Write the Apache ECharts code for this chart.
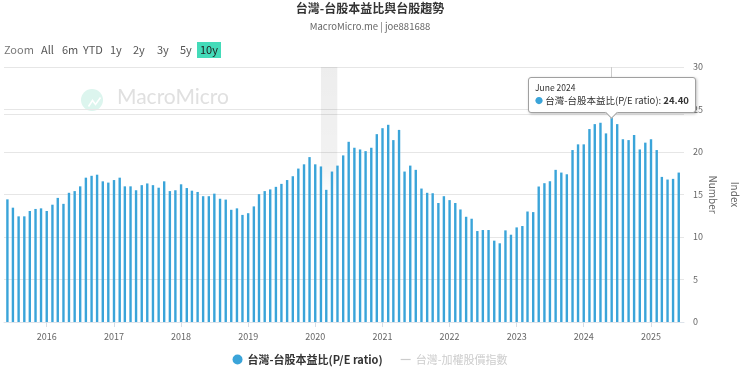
<!DOCTYPE html>
<html><head><meta charset="utf-8">
<script src="https://cdn.jsdelivr.net/npm/echarts@6/dist/echarts.min.js"></script>
<style>html,body{margin:0;padding:0;background:#fff}#c{width:740px;height:372px}</style>
</head><body><div id="c"></div>
<script>
const titleText = '台灣-台股本益比與台股趨勢';
const subText = 'MacroMicro.me | joe881688';
const seriesName = '台灣-台股本益比(P/E ratio)';
const hiddenName = '台灣-加權股價指數';
// monthly P/E values (first array starts in June 2015)
const pe2015 = [14.43, 13.45, 12.43, 12.43, 13.06, 13.3, 13.37];
const pe2016 = [13.06, 13.8, 14.6, 13.9, 15.2, 15.4, 15.96, 16.98, 17.2, 17.33, 16.55, 16.4];
const pe2017 = [16.7, 16.98, 15.96, 15.96, 15.5, 16.1, 16.3, 16.1, 15.8, 16.55, 15.4, 15.5];
const pe2018 = [16.2, 15.76, 15.45, 15.3, 14.8, 14.8, 15.1, 14.5, 14.4, 13.2, 13.37, 12.6];
const pe2019 = [12.8, 13.6, 15.04, 15.4, 15.6, 15.9, 16.25, 16.7, 17.15, 18.05, 18.55, 19.4];
const pe2020 = [18.55, 18.3, 15.55, 17.7, 18.4, 19.6, 21.2, 20.5, 20.3, 20.1, 20.5, 22.1];
const pe2021 = [22.8, 23.2, 21.4, 22.6, 17.7, 18.4, 17.9, 15.7, 15.2, 15.15, 14.0, 14.8];
const pe2022 = [14.34, 14.0, 13.24, 12.38, 12.15, 10.7, 10.82, 10.82, 9.57, 9.26, 10.78, 10.27];
const pe2023 = [11.13, 11.29, 13.0, 12.93, 15.94, 16.33, 16.56, 17.9, 17.58, 17.38, 20.23, 20.9];
const pe2024 = [20.9, 22.7, 23.28, 23.44, 22.19, 24.40, 23.28, 21.5, 21.4, 22.0, 20.3, 21.1];
const pe2025 = [21.5, 20.23, 17.07, 16.76, 16.84, 17.58];
const yearBlocks = [[2015, 6, pe2015], [2016, 1, pe2016], [2017, 1, pe2017], [2018, 1, pe2018], [2019, 1, pe2019],
  [2020, 1, pe2020], [2021, 1, pe2021], [2022, 1, pe2022], [2023, 1, pe2023], [2024, 1, pe2024], [2025, 1, pe2025]];
const yTickValues = [0, 5, 10, 15, 20, 25, 30];
const recession = ['2020-02-01', '2020-04-30'];
const highlightDate = '2024-06-01';
const xRange = ['2015-05-20', '2025-06-23'];
const rangeButtons = ['All', '6m', 'YTD', '1y', '2y', '3y', '5y', '10y'];
const monthNames = ['January','February','March','April','May','June','July','August','September','October','November','December'];

const pad = n => (n < 10 ? '0' : '') + n;
const peData = [];
yearBlocks.forEach(([y, m0, arr]) => arr.forEach((v, i) => peData.push([y + '-' + pad(m0 + i) + '-01', v])));
const hiIndex = peData.findIndex(d => d[0] === highlightDate);

const BLUE = '#3aa4d9';
const FONT = '"Noto Sans CJK TC", "Noto Sans", sans-serif';
const chart = echarts.init(document.getElementById('c'), null, {renderer: 'canvas'});

const btnX = [41, 62, 83, 110, 133, 157, 180, 200];
const graphics = [
  {type: 'text', left: 4, top: 44, z: 10, style: {text: 'Zoom', fontSize: 11, fill: '#777', fontFamily: FONT}},
  {type: 'rect', left: 197, top: 42, z: 9, shape: {width: 24, height: 16}, style: {fill: '#44dbb9'}},
  // watermark
  {type: 'circle', left: 81, top: 89, z: 0, shape: {r: 11}, style: {fill: '#dcf5ee'}},
  {type: 'polyline', left: 86, top: 95, z: 1, shape: {points: [[0, 9], [4, 3], [7, 7], [12, 0]]}, style: {stroke: '#ffffff', lineWidth: 1.6, fill: null}},
  {type: 'text', left: 117, top: 87, z: 0, style: {text: 'MacroMicro', fontSize: 21, fill: '#e0e0e0', fontFamily: 'Lato, sans-serif'}}
];
rangeButtons.forEach((t, i) => graphics.push({type: 'text', left: btnX[i], top: 44, z: 10,
  style: {text: t, fontSize: 11, fill: t === '10y' ? '#222' : '#555', fontFamily: FONT}}));

const option = {
  animation: false,
  backgroundColor: '#fff',
  title: {
    text: titleText, subtext: subText, left: 'center', top: -3, itemGap: 8,
    textStyle: {fontSize: 12, fontWeight: 'bold', color: '#333', fontFamily: FONT},
    subtextStyle: {fontSize: 9.5, color: '#666', fontFamily: FONT}
  },
  graphic: graphics,
  legend: {
    bottom: 2, left: 'center', itemGap: 18, itemWidth: 10, itemHeight: 10,
    inactiveColor: '#cccccc',
    data: [
      {name: seriesName, icon: 'circle', textStyle: {fontWeight: 'bold', color: '#333'}},
      {name: hiddenName, icon: 'path://M0,0 M0,10 M0,4.4 L10,4.4 L10,5.6 L0,5.6 Z', textStyle: {color: '#cccccc'}}
    ],
    selected: {[hiddenName]: false},
    textStyle: {fontSize: 11, fontFamily: FONT}
  },
  grid: {left: 4, right: 56, top: 67, bottom: 50, outerBoundsMode: 'none', containLabel: false},
  tooltip: {
    trigger: 'item', alwaysShowContent: true, transitionDuration: 0, showDelay: 0, hideDelay: 0,
    backgroundColor: '#ffffff', borderColor: '#a0a0a0', borderWidth: 1, padding: [3, 6, 4, 6],
    extraCssText: 'box-shadow:1px 1px 3px rgba(0,0,0,0.25);border-radius:3px;overflow:visible;',
    position: function (point, params, dom, rect, size) {
      const w = size.contentSize[0], h = size.contentSize[1];
      if (rect) return [rect.x + rect.width / 2 - w / 2, rect.y - h - 2];
      return [point[0] - w / 2, point[1] - h - 2];
    },
    formatter: function (p) {
      const d = new Date(p.value[0]);
      return '<div style="font-size:8.5px;color:#333;line-height:12px;font-family:' + FONT.replace(/"/g, "'") + '">' +
        monthNames[d.getUTCMonth()] + ' ' + d.getUTCFullYear() + '</div>' +
        '<div style="font-size:9.5px;color:#333;line-height:15px;font-family:' + FONT.replace(/"/g, "'") + '">' +
        '<span style="color:' + BLUE + ';font-size:8px">●</span> ' + p.seriesName + ': <b>' + p.value[1].toFixed(2) + '</b></div>' +
        '<div style="position:absolute;left:50%;bottom:-5px;width:8px;height:8px;margin-left:-5px;background:#fff;' +
        'border-right:1px solid #a0a0a0;border-bottom:1px solid #a0a0a0;transform:rotate(45deg)"></div>';
    }
  },
  xAxis: {
    type: 'time', min: xRange[0], max: xRange[1],
    minInterval: 365 * 24 * 3600 * 1000, maxInterval: 366 * 24 * 3600 * 1000,
    axisLine: {show: true, lineStyle: {color: '#dde3ea'}},
    axisTick: {show: true, length: 5, lineStyle: {color: '#d8dde5'}},
    splitLine: {show: false},
    axisLabel: {
      color: '#666', fontSize: 9, margin: 10, fontFamily: FONT,
      formatter: function (v) { const d = new Date(v); return (d.getMonth() === 0 && d.getDate() === 1) ? String(d.getFullYear()) : ''; }
    },
    axisPointer: {show: true, status: 'show', value: +new Date(highlightDate + 'T00:00:00'), type: 'line', snap: false, z: 1,
      triggerTooltip: false, label: {show: false}, lineStyle: {color: '#cccccc', width: 1, type: 'solid'}}
  },
  yAxis: [{
    type: 'value', position: 'right', min: yTickValues[0], max: yTickValues[yTickValues.length - 1], interval: yTickValues[1] - yTickValues[0],
    name: 'Number', nameLocation: 'middle', nameRotate: -90, nameGap: 24, nameMoveOverlap: false,
    nameTextStyle: {color: '#666', fontSize: 10, fontFamily: FONT},
    axisLine: {show: false}, axisTick: {show: false},
    axisLabel: {color: '#666', fontSize: 9, margin: 9, fontFamily: FONT},
    splitLine: {lineStyle: {color: '#e6e6e6'}}
  }, {
    type: 'value', position: 'right', min: 0, max: 1, interval: 0.8128,
    name: 'Index', nameLocation: 'middle', nameRotate: -90, nameGap: 46, nameMoveOverlap: false,
    nameTextStyle: {color: '#666', fontSize: 10, fontFamily: FONT},
    axisLine: {show: false}, axisTick: {show: false}, axisLabel: {show: false},
    splitLine: {lineStyle: {color: '#e6e6e6'}}
  }],
  series: [{
    name: seriesName, type: 'bar', data: peData, barWidth: 2.4, yAxisIndex: 0, z: 3,
    itemStyle: {color: BLUE},
    emphasis: {disabled: true},
    markArea: {
      silent: true,
      itemStyle: {color: new echarts.graphic.LinearGradient(0, 0, 0, 1, [
        {offset: 0, color: 'rgba(0,0,0,0.07)'}, {offset: 0.38, color: 'rgba(0,0,0,0.05)'}, {offset: 0.5, color: 'rgba(0,0,0,0)'}])},
      data: [[{xAxis: recession[0]}, {xAxis: recession[1]}]]
    }
  }, {
    name: hiddenName, type: 'line', data: [], yAxisIndex: 1, itemStyle: {color: '#cccccc'}
  }]
};
chart.setOption(option);
function showTip() { chart.dispatchAction({type: 'showTip', seriesIndex: 0, dataIndex: hiIndex}); }
showTip();
setTimeout(showTip, 30);
</script></body></html>
